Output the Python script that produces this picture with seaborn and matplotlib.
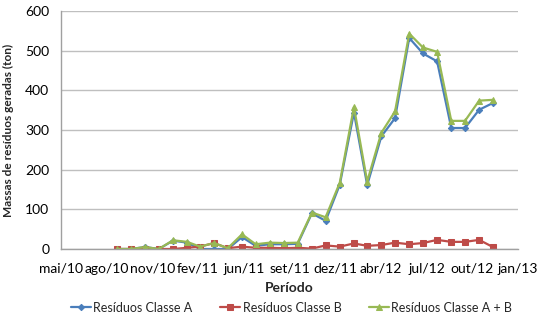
import matplotlib
matplotlib.use("Agg")
import matplotlib.pyplot as plt
import matplotlib.dates as mdates
import seaborn as sns
import pandas as pd
import numpy as np

months = ["2010-09", "2010-10", "2010-11", "2010-12", "2011-01", "2011-02", "2011-03",
          "2011-04", "2011-05", "2011-06", "2011-07", "2011-08", "2011-09", "2011-10",
          "2011-11", "2011-12", "2012-01", "2012-02", "2012-03", "2012-04", "2012-05",
          "2012-06", "2012-07", "2012-08", "2012-09", "2012-10", "2012-11", "2012-12"]
classe_a = [0, 0, 5, 0, 21, 16, 0, 0, 0, 30, 8, 12, 12, 13, 90, 71, 162, 344, 161,
            284, 330, 532, 493, 473, 305, 305, 351, 368]
classe_b = [0, 0, 0, 0, 0, 3, 6, 15, 2, 6, 3, 3, 2, 3, 1, 9, 6, 14, 8,
            10, 16, 12, 15, 23, 18, 18, 23, 5]
classe_ab = [0, 0, 5, 0, 22, 18, 6, 15, 2, 37, 12, 16, 15, 16, 92, 80, 167, 358, 170,
             293, 347, 543, 508, 497, 323, 323, 374, 376]
tick_labels = ["mai/10", "ago/10", "nov/10", "fev/11", "jun/11", "set/11",
               "dez/11", "abr/12", "jul/12", "out/12", "jan/13"]
series_names = ["Resíduos Classe A", "Resíduos Classe B", "Resíduos Classe A + B"]

df = pd.DataFrame({"data": pd.to_datetime(months),
                   series_names[0]: classe_a,
                   series_names[1]: classe_b,
                   series_names[2]: classe_ab})

sns.set_style("white")
plt.rcParams["font.family"] = ["Lato", "DejaVu Sans"]

fig = plt.figure(figsize=(5.45, 3.22), dpi=100)
ax = fig.add_axes([61/545, 1-249/322, (518-61)/545, (249-11)/322])

colors = ["#4A7EBB", "#BE4B48", "#98B954"]
markers = ["D", "s", "^"]
msizes = [3.2, 4.5, 4.5]
for name, c, m, ms in zip(series_names, colors, markers, msizes):
    sns.lineplot(data=df, x="data", y=name, ax=ax, color=c, marker=m,
                 markersize=ms, markeredgecolor=c, linewidth=1.6, label=name,
                 legend=False)

start = mdates.date2num(pd.Timestamp("2010-05-01"))
ax.set_xlim(start, start + 1000)
ax.set_xticks([start + 100 * k for k in range(11)])
ax.set_xticklabels(tick_labels)
ax.set_ylim(0, 600)
ax.set_yticks(range(0, 601, 100))

ax.grid(axis="y", color="#BFBFBF", linewidth=1)
ax.grid(axis="x", visible=False)
for s in ["top", "right"]:
    ax.spines[s].set_visible(False)
for s in ["left", "bottom"]:
    ax.spines[s].set_color("#A0A0A0")
    ax.spines[s].set_linewidth(1)
ax.tick_params(axis="both", direction="out", length=5, color="#A0A0A0",
               labelsize=10, labelcolor="black", width=1)
ax.tick_params(axis="x", pad=5)

ax.set_xlabel("Período", fontsize=10, fontweight="bold", labelpad=5)
ax.set_ylabel("Massas de resíduos geradas (ton)", fontsize=8.6, fontweight="bold",
              labelpad=8)

handles, labels = ax.get_legend_handles_labels()
fig.legend(handles, labels, loc="center", bbox_to_anchor=(0.535, 0.045), ncol=3,
           frameon=False, fontsize=9, handlelength=1.6, columnspacing=2.2,
           handletextpad=0.2)

fig.savefig("out.png", dpi=100)
